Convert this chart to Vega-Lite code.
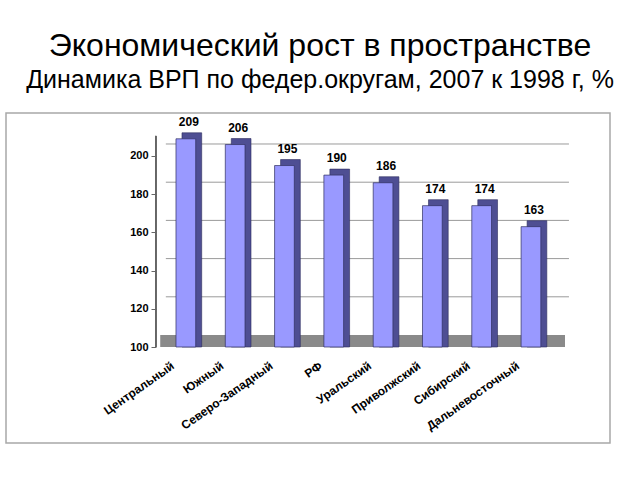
{
  "$schema": "https://vega.github.io/schema/vega-lite/v6.json",
  "width": 604,
  "height": 330,
  "autosize": {"type": "none"},
  "padding": {"left": 6, "top": 113, "right": 30, "bottom": 37},
  "background": "white",
  "title": {
    "text": "Экономический рост в пространстве",
    "subtitle": "Динамика ВРП по федер.округам, 2007 к 1998 г, %",
    "font": "Liberation Sans",
    "fontSize": 32,
    "fontWeight": "normal",
    "color": "black",
    "subtitleFont": "Liberation Sans",
    "subtitleFontSize": 25,
    "subtitleColor": "black",
    "subtitlePadding": 5,
    "anchor": "middle",
    "frame": "group",
    "offset": 19,
    "dx": 12
  },
  "config": {"view": {"stroke": "#a8a8a8", "strokeWidth": 1.5}},
  "data": {
    "values": [
      {"region": "Центральный", "value": 209},
      {"region": "Южный", "value": 206},
      {"region": "Северо-Западный", "value": 195},
      {"region": "РФ", "value": 190},
      {"region": "Уральский", "value": 186},
      {"region": "Приволжский", "value": 174},
      {"region": "Сибирский", "value": 174},
      {"region": "Дальневосточный", "value": 163}
    ]
  },
  "layer": [
    {
      "data": {"values": [{"value": 120}, {"value": 140}, {"value": 160}, {"value": 180}, {"value": 200}]},
      "mark": {"type": "rule", "color": "#9a9a9a", "strokeWidth": 1, "xOffset": -20, "x2Offset": 38, "yOffset": -12},
      "encoding": {
        "x": {
          "datum": "Центральный",
          "type": "nominal",
          "scale": {"domain": ["Центральный", "Южный", "Северо-Западный", "РФ", "Уральский", "Приволжский", "Сибирский", "Дальневосточный"], "range": [140.4, 564.4], "paddingInner": 0.6, "paddingOuter": 0.6},
          "axis": {
            "orient": "bottom",
            "offset": -94,
            "domain": false,
            "ticks": false,
            "grid": false,
            "labelAngle": -35,
            "labelAlign": "right",
            "labelBaseline": "middle",
            "labelPadding": 15,
            "labelOffset": -13,
            "labelFont": "Liberation Sans",
            "labelFontSize": 12,
            "labelFontWeight": "bold",
            "labelColor": "black",
            "title": null
          }
        },
        "x2": {"datum": "Дальневосточный"},
        "y": {
          "field": "value",
          "type": "quantitative",
          "scale": {"domain": [49.74, 222.51], "nice": false, "zero": false},
          "axis": {
            "values": [100, 120, 140, 160, 180, 200],
            "offset": -150,
            "domain": false,
            "grid": false,
            "tickSize": 5,
            "tickColor": "#666666",
            "labelFont": "Liberation Sans",
            "labelFontSize": 11,
            "labelFontWeight": "bold",
            "labelColor": "black",
            "labelPadding": 3,
            "title": null
          }
        }
      }
    },
    {
      "mark": {"type": "rule", "color": "#8a8a8a", "strokeWidth": 12, "xOffset": -25, "x2Offset": 34},
      "encoding": {
        "x": {"datum": "Центральный", "type": "nominal", "title": null},
        "x2": {"datum": "Дальневосточный"},
        "y": {"datum": 103.14, "type": "quantitative", "title": null}
      }
    },
    {
      "mark": {"type": "rule", "color": "#666666", "strokeWidth": 1, "xOffset": -30},
      "encoding": {
        "x": {"datum": "Центральный", "type": "nominal", "title": null},
        "y": {"datum": 100, "type": "quantitative", "title": null},
        "y2": {"datum": 210.5}
      }
    },
    {
      "mark": {"type": "bar", "color": "#4e4e93", "stroke": "#2e2e5e", "strokeWidth": 0.6, "xOffset": 6, "yOffset": -6},
      "encoding": {
        "x": {"field": "region", "type": "nominal", "sort": null, "title": null},
        "y": {"field": "value", "type": "quantitative", "title": null},
        "y2": {"datum": 100}
      }
    },
    {
      "mark": {"type": "bar", "color": "#9999ff", "stroke": "#2e2e5e", "strokeWidth": 0.7},
      "encoding": {
        "x": {"field": "region", "type": "nominal", "sort": null, "title": null},
        "y": {"field": "value", "type": "quantitative", "title": null},
        "y2": {"datum": 100}
      }
    },
    {
      "mark": {"type": "text", "baseline": "bottom", "dy": -10, "xOffset": 3, "font": "Liberation Sans", "fontSize": 12, "fontWeight": "bold", "color": "black"},
      "encoding": {
        "x": {"field": "region", "type": "nominal", "sort": null, "title": null},
        "y": {"field": "value", "type": "quantitative", "title": null},
        "text": {"field": "value", "type": "quantitative"}
      }
    }
  ]
}
